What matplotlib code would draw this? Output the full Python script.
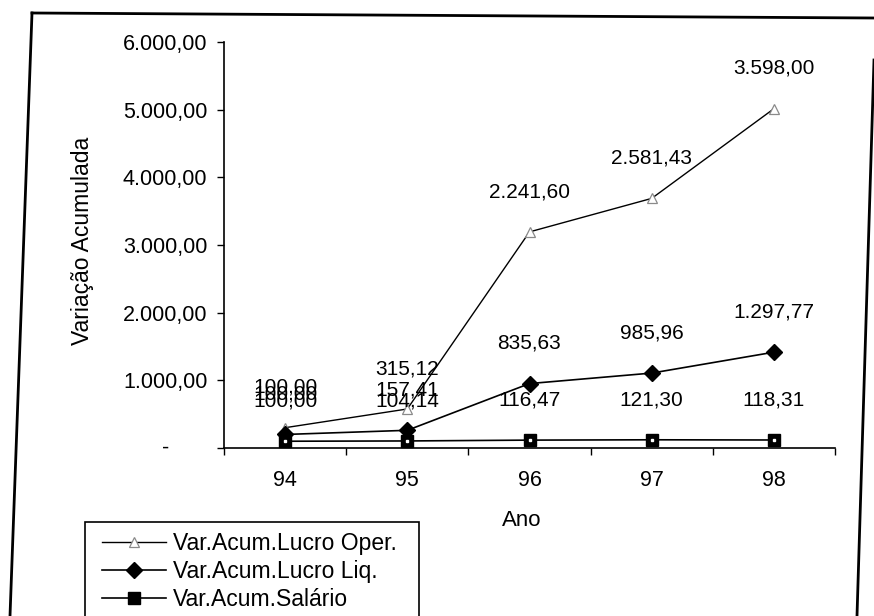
import numpy as np
import matplotlib
matplotlib.use("Agg")
import matplotlib.pyplot as plt
from matplotlib.lines import Line2D
from matplotlib.patches import Rectangle
from matplotlib.ticker import FixedLocator, FuncFormatter
import matplotlib.transforms as mtransforms

plt.rcParams['font.family'] = ['Liberation Sans', 'DejaVu Sans']

# ---- data ----
anos = ["94", "95", "96", "97", "98"]
salario = [100.00, 104.14, 116.47, 121.30, 118.31]
lucro_liq = [100.00, 157.41, 835.63, 985.96, 1297.77]
lucro_oper = [100.00, 315.12, 2241.60, 2581.43, 3598.00]
serie_nomes = ["Var.Acum.Lucro Oper.", "Var.Acum.Lucro Liq.", "Var.Acum.Salário"]
y_ticks = [0, 1000, 2000, 3000, 4000, 5000, 6000]

W, H = 874, 616
fig = plt.figure(figsize=(W / 100, H / 100), dpi=100)
ax_l, ax_r, ax_t, ax_b = 224, 835, 42, 448
ax = fig.add_axes([ax_l / W, 1 - ax_b / H, (ax_r - ax_l) / W, (ax_b - ax_t) / H])

x = np.arange(len(anos))
s_sal = np.array(salario)
s_liq = s_sal + np.array(lucro_liq)
s_oper = s_liq + np.array(lucro_oper)

lw = 1.2
l_oper, = ax.plot(x, s_oper, color='black', lw=1.0, marker='^', ms=7,
                  mfc='white', mec='#8a8a8a', mew=0.9, zorder=3)
l_liq, = ax.plot(x, s_liq, color='black', lw=lw, marker='D', ms=8,
                 mfc='black', mec='black', zorder=3)
l_sal, = ax.plot(x, s_sal, color='black', lw=lw, marker='s', ms=9,
                 mfc='black', mec='black', zorder=3)
ax.plot(x, s_sal, ls='none', marker='s', ms=2, mfc='white', mec='white', zorder=4)


def fmt_br(v):
    s = f"{v:,.2f}"
    return s.replace(',', 'X').replace('.', ',').replace('X', '.')


for vals, tops in ((lucro_oper, s_oper), (lucro_liq, s_liq), (salario, s_sal)):
    for xi, v, t in zip(x, vals, tops):
        ax.annotate(fmt_br(v), (xi, t), xytext=(0, 29), textcoords='offset points',
                    ha='center', va='center', fontsize=15, color='black', zorder=5)

ax.set_xlim(-0.5, len(anos) - 0.5)
ax.set_ylim(0, 6000)

for sp in ('top', 'right'):
    ax.spines[sp].set_visible(False)
for sp in ('left', 'bottom'):
    ax.spines[sp].set_linewidth(1.2)
    ax.spines[sp].set_color('black')

ax.yaxis.set_major_locator(FixedLocator(y_ticks))
ax.yaxis.set_major_formatter(FuncFormatter(lambda v, p: "" if v == 0 else fmt_br(v)))
ax.tick_params(axis='y', direction='out', length=5, width=1, pad=7, labelsize=15.5)
trans = mtransforms.blended_transform_factory(ax.transAxes, ax.transData)
ax.text(-(ax_l - 166) / (ax_r - ax_l), 0, "-", transform=trans, ha='center', va='center',
        fontsize=15.5)

ax.set_xticks(x)
ax.set_xticklabels(anos)
ax.set_xticks(np.arange(-0.5, len(anos)), minor=True)
ax.tick_params(axis='x', which='major', length=0, pad=16, labelsize=15.5)
ax.tick_params(axis='x', which='minor', direction='out', length=5, width=1)

ax.set_xlabel("Ano", fontsize=16, va='center')
ax.xaxis.set_label_coords((522 - ax_l) / (ax_r - ax_l), -(520 - ax_b) / (ax_b - ax_t))
ax.set_ylabel("Variação Acumulada", fontsize=16.5, va='center')
ax.yaxis.set_label_coords(-(ax_l - 83) / (ax_r - ax_l), (ax_b - 241) / (ax_b - ax_t))

# legend (box extends below the page edge, as in the scan)
leg = fig.legend([l_oper, l_liq, l_sal], serie_nomes, loc='upper left',
                 bbox_to_anchor=(102 / W, 1 - 532 / H), frameon=False,
                 fontsize=16.5, handlelength=2.8, handletextpad=0.3,
                 labelspacing=0.22, borderpad=0, borderaxespad=0)
fig.add_artist(Rectangle((85 / W, -0.05), (419 - 85) / W, (1 - 522 / H) + 0.05,
                         transform=fig.transFigure, fill=False, ec='black', lw=1.2))

# scanned page frame
fig.add_artist(Line2D([32 / W, 10 / W], [1 - 13 / H, 0], transform=fig.transFigure,
                      color='black', lw=2))
fig.add_artist(Line2D([32 / W, 1.0], [1 - 13 / H, 1 - 18 / H], transform=fig.transFigure,
                      color='black', lw=2))
fig.add_artist(Line2D([874 / W, 857 / W], [1 - 60 / H, 0], transform=fig.transFigure,
                      color='black', lw=2))

fig.savefig("out.png", dpi=100)
